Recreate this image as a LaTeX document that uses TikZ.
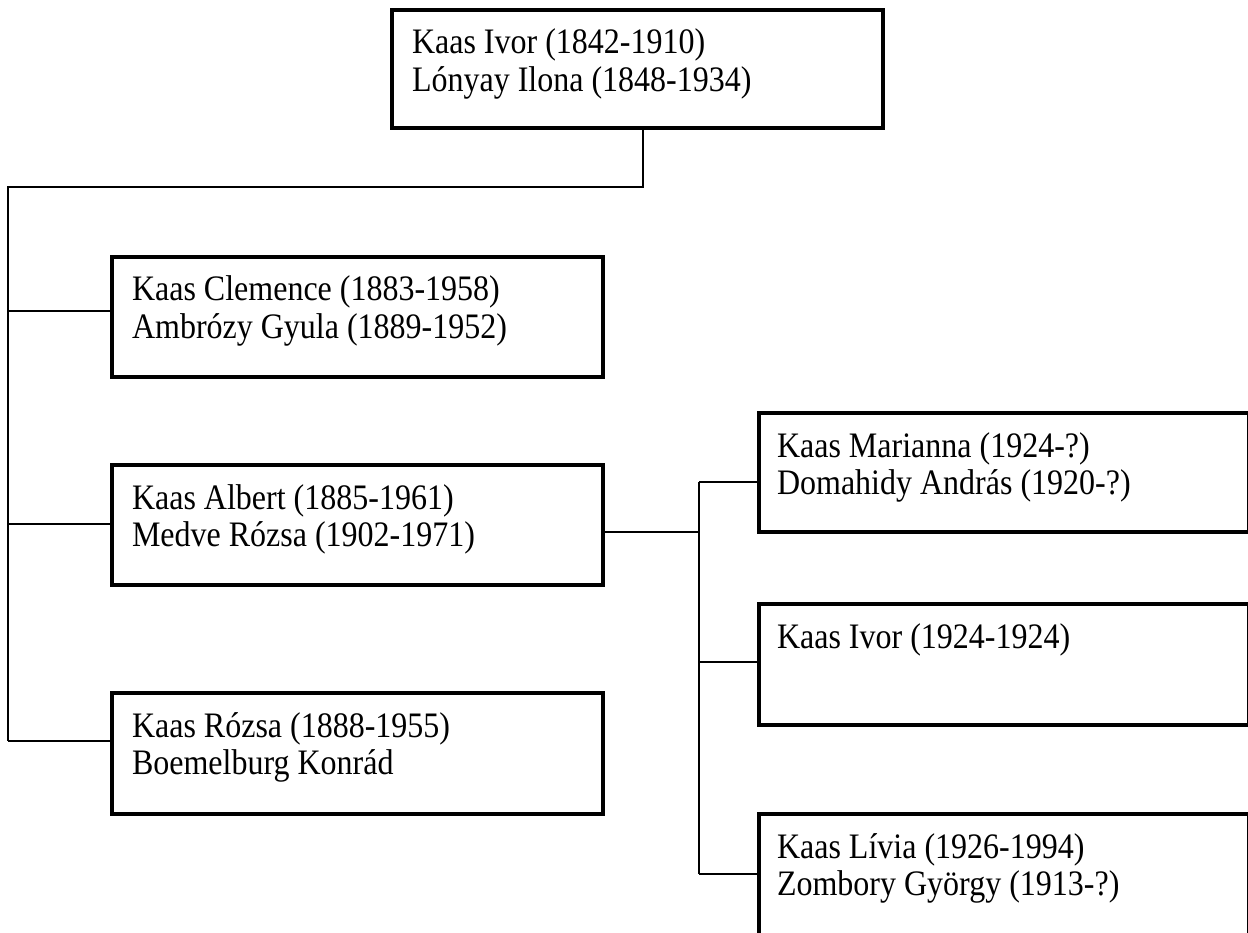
\documentclass[tikz,border=0pt]{standalone}
\usepackage{fontspec}
\setmainfont{Liberation Serif}
\usepackage{graphicx}
\newcommand{\pline}[1]{\scalebox{1}[1.12]{#1}}
\begin{document}
\begin{tikzpicture}[x=1pt,y=-1pt,
  person/.style={draw, line width=3.5pt, rectangle, inner sep=0pt, outer sep=0pt, anchor=north west, minimum width=491pt, minimum height=119pt},
  rperson/.style={person, minimum width=490pt},
  ptext/.style={anchor=north west, inner sep=0pt, outer sep=0pt, align=left, font=\fontsize{32}{37.5}\selectfont},
  conn/.style={line width=1.6pt}]
\useasboundingbox (0,0) rectangle (1248,933);
\clip (0,0) rectangle (1248,933);

% boxes
\node[person, minimum height=118pt] (top) at (392,10) {};
\node[person, minimum height=120pt] (clem) at (112,257) {};
\node[person, minimum height=120pt] (albert) at (112,465) {};
\node[person, minimum height=121pt] (rozsa) at (112,693) {};
\node[rperson] (mari) at (759,413) {};
\node[rperson, minimum height=121pt] (ivor) at (759,604) {};
\node[rperson, minimum height=150pt] (livia) at (759,814) {};

% texts
\node[ptext] (ttop) at ([shift={(20,17)}]top.north west) {\rule{0pt}{27pt}\pline{Kaas Ivor (1842-1910)}\\\pline{Lónyay Ilona (1848-1934)}};
\node[ptext] (tclem) at ([shift={(20,17)}]clem.north west) {\rule{0pt}{27pt}\pline{Kaas Clemence (1883-1958)}\\\pline{Ambrózy Gyula (1889-1952)}};
\node[ptext] (talbert) at ([shift={(20,17)}]albert.north west) {\rule{0pt}{27pt}\pline{Kaas Albert (1885-1961)}\\\pline{Medve Rózsa (1902-1971)}};
\node[ptext] (trozsa) at ([shift={(20,17)}]rozsa.north west) {\rule{0pt}{27pt}\pline{Kaas Rózsa (1888-1955)}\\\pline{Boemelburg Konrád}};
\node[ptext] (tmari) at ([shift={(18,17)}]mari.north west) {\rule{0pt}{27pt}\pline{Kaas Marianna (1924-?)}\\\pline{Domahidy András (1920-?)}};
\node[ptext] (tivor) at ([shift={(18,17)}]ivor.north west) {\rule{0pt}{27pt}\pline{Kaas Ivor (1924-1924)}};
\node[ptext] (tlivia) at ([shift={(18,17)}]livia.north west) {\rule{0pt}{27pt}\pline{Kaas Lívia (1926-1994)}\\\pline{Zombory György (1913-?)}};

% left connectors
\coordinate (tt) at (8,187);
\coordinate (c1) at (8,311);
\coordinate (c2) at (8,524);
\coordinate (tb) at (8,741);
\draw[conn] ([xshift=5.5pt]top.south) |- (tt) -- (tb);
\draw[conn] (c1) -- (c1 -| clem.west);
\draw[conn] (c2) -- (c2 -| albert.west);
\draw[conn] (tb) -- (tb -| rozsa.west);

% right connectors
\coordinate (r0) at (699,532);
\coordinate (rt) at (699,482);
\coordinate (r2) at (699,662);
\coordinate (rb) at (699,874);
\draw[conn] (r0 -| albert.east) -- (r0);
\draw[conn] (rt) -- (rb);
\draw[conn] (rt) -- (rt -| mari.west);
\draw[conn] (r2) -- (r2 -| ivor.west);
\draw[conn] (rb) -- (rb -| livia.west);
\end{tikzpicture}
\end{document}
